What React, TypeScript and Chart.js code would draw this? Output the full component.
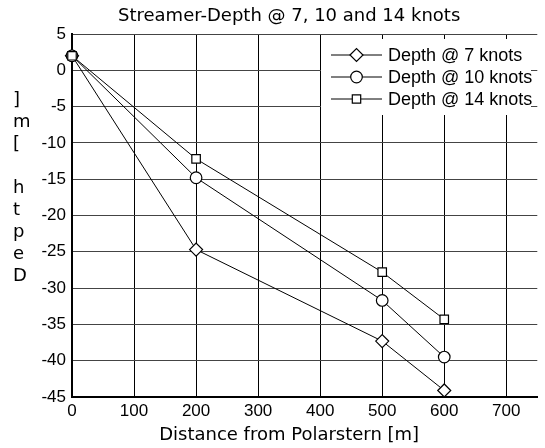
import { useEffect, useRef } from 'react';
import { Chart, registerables } from 'chart.js';

Chart.register(...registerables);

const distances = [0, 200, 500, 600];
const depth7 = [2, -24.7, -37.3, -44.1];
const depth10 = [2, -14.8, -31.7, -39.5];
const depth14 = [2, -12.2, -27.8, -34.3];
const seriesLabels = ['Depth @ 7 knots', 'Depth @ 10 knots', 'Depth @ 14 knots'];
const seriesStyles = ['rectRot', 'circle', 'rect'];
const xTickValues = [0, 100, 200, 300, 400, 500, 600, 700];
const titleText = 'Streamer-Depth @ 7, 10 and 14 knots';
const xTitleText = 'Distance from Polarstern [m]';
const yTitleText = 'Depth [m]';

function drawMarker(ctx: CanvasRenderingContext2D, style: string, x: number, y: number) {
  ctx.beginPath();
  if (style === 'rectRot') {
    const r = 6.5;
    ctx.moveTo(x - r, y);
    ctx.lineTo(x, y - r);
    ctx.lineTo(x + r, y);
    ctx.lineTo(x, y + r);
    ctx.closePath();
  } else if (style === 'circle') {
    ctx.arc(x, y, 5.8, 0, Math.PI * 2);
  } else {
    const s = 4.2;
    ctx.rect(x - s, y - s, 2 * s, 2 * s);
  }
  ctx.fillStyle = '#fff';
  ctx.fill();
  ctx.strokeStyle = '#000';
  ctx.lineWidth = 1.2;
  ctx.stroke();
}

const decorPlugin = {
  id: 'decor',
  afterDraw(chart: any) {
    const ctx: CanvasRenderingContext2D = chart.ctx;
    const xs = chart.scales.x;
    const area = chart.chartArea;
    ctx.save();
    const cx = (xs.getPixelForValue(0) + xs.getPixelForValue(700)) / 2;
    // title
    ctx.fillStyle = '#000';
    ctx.textAlign = 'center';
    ctx.textBaseline = 'middle';
    ctx.font = '18px "DejaVu Sans"';
    ctx.fillText(titleText, cx, 16);
    // x title
    ctx.fillText(xTitleText, cx, 435);
    // y title: stacked reversed letters
    ctx.textAlign = 'left';
    const letters = yTitleText.split('').reverse();
    letters.forEach((ch, i) => {
      ctx.fillText(ch, 13, 100 + i * 22);
    });
    // legend
    ctx.fillStyle = '#fff';
    ctx.fillRect(area.left + 249, area.top + 5, 210, 76);
    ctx.font = '18px "Liberation Sans"';
    seriesLabels.forEach((label, i) => {
      const y = area.top + 21 + i * 22;
      ctx.strokeStyle = '#000';
      ctx.lineWidth = 1;
      ctx.beginPath();
      ctx.moveTo(331, y);
      ctx.lineTo(382, y);
      ctx.stroke();
      drawMarker(ctx, seriesStyles[i], 356.5, y);
      ctx.fillStyle = '#000';
      ctx.textAlign = 'left';
      ctx.textBaseline = 'middle';
      ctx.fillText(label, 388, y + 1);
    });
    ctx.restore();
  },
};

function makeDataset(label: string, values: number[], style: string, order: number) {
  return {
    label,
    data: distances.map((d, i) => ({ x: d, y: values[i] })),
    borderColor: '#000',
    borderWidth: 1,
    pointStyle: style,
    pointRadius: style === 'rectRot' ? 6.5 : style === 'circle' ? 5.8 : 6,
    pointBackgroundColor: '#fff',
    pointBorderColor: '#000',
    pointBorderWidth: 1.2,
    fill: false,
    tension: 0,
    clip: false,
    order,
  };
}

export default function App() {
  const ref = useRef<HTMLCanvasElement | null>(null);
  useEffect(() => {
    if (!ref.current) return;
    const chart = new Chart(ref.current, {
      type: 'line',
      data: {
        datasets: [
          makeDataset(seriesLabels[0], depth7, seriesStyles[0], 3),
          makeDataset(seriesLabels[1], depth10, seriesStyles[1], 2),
          makeDataset(seriesLabels[2], depth14, seriesStyles[2], 1),
        ] as any,
      },
      options: {
        animation: false,
        responsive: false,
        maintainAspectRatio: false,
        layout: { padding: { top: 34, right: 4, left: 0, bottom: 0 } },
        plugins: {
          legend: { display: false },
          tooltip: { enabled: false },
          title: { display: false },
        },
        scales: {
          x: {
            type: 'linear',
            min: 0,
            max: 750,
            afterBuildTicks: (scale: any) => {
              scale.ticks = xTickValues.map((v) => ({ value: v }));
            },
            afterFit: (scale: any) => {
              scale.height = 51;
            },
            grid: { color: '#000', lineWidth: 1, drawTicks: false },
            border: { display: true, color: '#000', width: 2 },
            ticks: {
              color: '#000',
              padding: 4,
              font: { family: '"Liberation Sans"', size: 17 },
              maxRotation: 0,
            },
          },
          y: {
            type: 'linear',
            min: -45,
            max: 5,
            afterFit: (scale: any) => {
              scale.width = 72;
            },
            grid: { color: '#444', lineWidth: 1, drawTicks: false },
            border: { display: true, color: '#000', width: 2 },
            ticks: {
              stepSize: 5,
              color: '#000',
              padding: 6,
              font: { family: '"Liberation Sans"', size: 17 },
            },
          },
        },
      },
      plugins: [decorPlugin],
    });
    return () => chart.destroy();
  }, []);
  return (
    <div style={{ position: 'fixed', left: 0, top: 0, width: 545, height: 448, background: '#fff' }}>
      <canvas ref={ref} width={545} height={448} style={{ width: 545, height: 448 }} />
    </div>
  );
}
